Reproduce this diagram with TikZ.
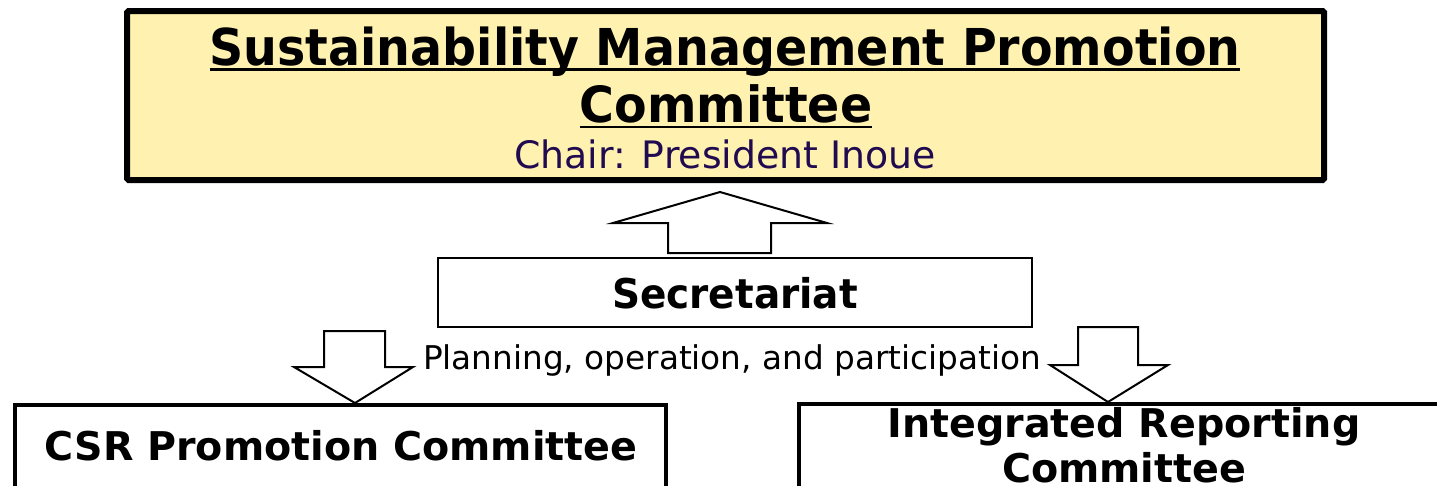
\documentclass[tikz,border=0pt]{standalone}
\usepackage{fontspec}
\setmainfont{DejaVu Sans}
\definecolor{boxyellow}{RGB}{255,242,176}
\definecolor{chairblue}{RGB}{32,10,80}
\tikzset{
  txt/.style={anchor=base, inner sep=0pt, outer sep=0pt},
  blockarrow/.style={draw=black, line width=2pt, fill=white, line join=miter},
  uline/.style={line width=2.6pt}
}
\begin{document}
\begin{tikzpicture}[x=1pt,y=-1pt]
\useasboundingbox (0,0) rectangle (1437,485);
\clip (0,0) rectangle (1437,485);
% top committee box
\draw[line width=6pt, fill=boxyellow, rounded corners=1.5pt] (127,11) rectangle (1324,180);
\node[txt, font=\fontsize{47.5}{57}\bfseries] (t1) at (725,65) {\scalebox{1}[1.07]{Sustainability Management Promotion}};
\node[txt, font=\fontsize{47.5}{57}\bfseries] (t2) at (726,122) {\scalebox{1}[1.05]{Committee}};
\draw[uline] ([yshift=-4.5pt]t1.base west) -- ([yshift=-4.5pt]t1.base east);
\draw[uline] ([yshift=-5pt]t2.base west) -- ([yshift=-5pt]t2.base east);
\node[txt, font=\fontsize{37.8}{45}\selectfont, text=chairblue] (chair) at (725,168) {Chair: President Inoue};
% up arrow
\draw[blockarrow] (668,253) -- (668,223) -- (613,223) -- (720,192) -- (827,223) -- (771,223) -- (771,253) -- cycle;
% secretariat
\node[draw, line width=2.5pt, minimum width=594pt, minimum height=69pt, inner sep=0pt] (sec) at (735,292.5) {};
\node[txt, font=\fontsize{39}{47}\bfseries] (sectext) at (735,308) {\scalebox{1}[1.05]{Secretariat}};
% planning text
\node[txt, font=\fontsize{32.7}{40}\selectfont] (plan) at (732,369) {Planning, operation, and participation};
% down arrows
\draw[blockarrow] (324,331) -- (385,331) -- (385,367) -- (413,367) -- (355,403) -- (294,367) -- (324,367) -- cycle;
\draw[blockarrow] (1078,327) -- (1138,327) -- (1138,365) -- (1168,365) -- (1108,402) -- (1050,365) -- (1078,365) -- cycle;
% bottom boxes
\draw[line width=4pt, line join=miter] (15,495) -- (15,404.5) -- (666,404.5) -- (666,495);
\node[txt, font=\fontsize{39.6}{47}\bfseries] (csr) at (341,460) {CSR Promotion Committee};
\draw[line width=4pt, line join=miter] (799,495) -- (799,404) -- (1445,404);
\node[txt, font=\fontsize{39.6}{47}\bfseries] (ir1) at (1124,437) {Integrated Reporting};
\node[txt, font=\fontsize{39.6}{47}\bfseries] (ir2) at (1124,482) {Committee};
\end{tikzpicture}
\end{document}
